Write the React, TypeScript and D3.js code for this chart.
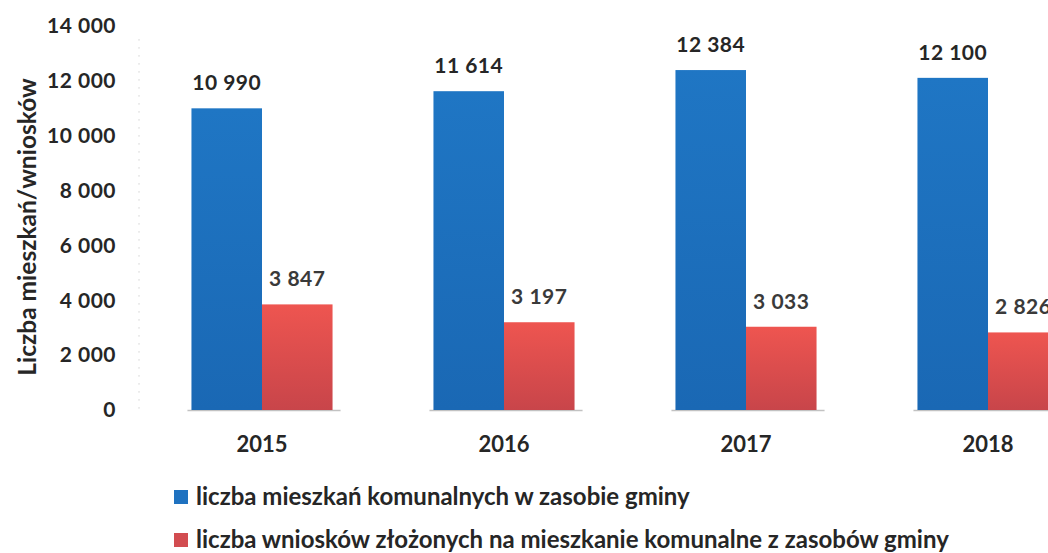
import React from "react";
import * as d3 from "d3";

const years = ["2015", "2016", "2017", "2018"];
const flats = [10990, 11614, 12384, 12100];
const applications = [3847, 3197, 3033, 2826];
const yTicks = [0, 2000, 4000, 6000, 8000, 10000, 12000, 14000];
const seriesNames = [
  "liczba mieszkań komunalnych w zasobie gminy",
  "liczba wniosków złożonych na mieszkanie komunalne z zasobów gminy",
];
const yTitle = "Liczba mieszkań/wniosków";

const W = 1048;
const H = 553;
const FONT = "Lato, 'Open Sans', sans-serif";

const fmt = (v: number) => {
  const s = String(v);
  return s.replace(/\B(?=(\d{3})+(?!\d))/g, " ");
};

export default function App() {
  const y = d3.scaleLinear().domain([0, 14000]).range([410, 25.7]);
  const x = d3
    .scaleBand<string>()
    .domain(years)
    .range([141, 1109])
    .paddingInner(0.417)
    .paddingOuter(0.2085);
  const sub = d3
    .scaleBand<string>()
    .domain(["a", "b"])
    .range([0, x.bandwidth()]);
  const bw = sub.bandwidth();

  return (
    <svg
      width={W}
      height={H}
      style={{ position: "absolute", left: 0, top: 0, background: "#fff" }}
      fontFamily={FONT}
    >
      <defs>
        <linearGradient id="redg" x1="0" y1="0" x2="0" y2="1">
          <stop offset="0%" stopColor="#ee5550" />
          <stop offset="100%" stopColor="#c8454a" />
        </linearGradient>
        <linearGradient id="blueg" x1="0" y1="0" x2="0" y2="1">
          <stop offset="0%" stopColor="#1f76c4" />
          <stop offset="100%" stopColor="#1a68b4" />
        </linearGradient>
      </defs>
      <rect x={0} y={0} width={W} height={H} fill="#fff" />

      {/* faint axis line */}
      <line
        x1={139}
        x2={139}
        y1={y(13500)}
        y2={y(0)}
        stroke="#bbb"
        strokeWidth={1}
        strokeDasharray="1 7"
      />

      {/* y tick labels */}
      {yTicks.map((t) => (
        <text
          key={t}
          x={116}
          y={y(t)}
          dy="0.35em"
          textAnchor="end"
          fontSize={21}
          letterSpacing={0.5}
          fontWeight={700}
          fill="#262626"
        >
          {fmt(t)}
        </text>
      ))}

      {/* y title */}
      <text
        transform={`translate(36, 227) rotate(-90)`}
        textAnchor="middle"
        fontSize={24.5}
        fontWeight={700}
        fill="#262626"
      >
        {yTitle}
      </text>

      {/* bars */}
      {years.map((yr, i) => {
        const x0 = x(yr)!;
        const xa = x0 + sub("a")!;
        const xb = x0 + sub("b")!;
        return (
          <g key={yr}>
            <line
              x1={xa - 4}
              x2={xb + bw + 8}
              y1={y(0) + 0.5}
              y2={y(0) + 0.5}
              stroke="#999"
              strokeOpacity={0.6}
              strokeWidth={1.5}
            />
            <rect
              x={xa}
              y={y(flats[i])}
              width={bw}
              height={y(0) - y(flats[i])}
              fill="url(#blueg)"
            />
            <rect
              x={xb}
              y={y(applications[i])}
              width={bw}
              height={y(0) - y(applications[i])}
              fill="url(#redg)"
            />
            <text
              x={xa + bw / 2}
              y={y(flats[i]) - 18}
              textAnchor="middle"
              fontSize={21}
              letterSpacing={0.5}
              fontWeight={700}
              fill="#262626"
            >
              {fmt(flats[i])}
            </text>
            <text
              x={xb + bw / 2}
              y={y(applications[i]) - 18}
              textAnchor="middle"
              fontSize={21}
              letterSpacing={0.5}
              fontWeight={700}
              fill="#3a3a3a"
            >
              {fmt(applications[i])}
            </text>
            <text
              x={x0 + x.bandwidth() / 2}
              y={452}
              textAnchor="middle"
              fontSize={22}
              fontWeight={700}
              fill="#262626"
            >
              {yr}
            </text>
          </g>
        );
      })}

      {/* legend */}
      {seriesNames.map((name, i) => (
        <g key={name} transform={`translate(174, ${490 + i * 43})`}>
          <rect
            x={0}
            y={0}
            width={14}
            height={14}
            fill={i === 0 ? "#1f72c0" : "#d24c50"}
          />
          <text
            x={22}
            y={15}
            fontSize={24}
            fontWeight={700}
            fill="#262626"
          >
            {name}
          </text>
        </g>
      ))}
    </svg>
  );
}
